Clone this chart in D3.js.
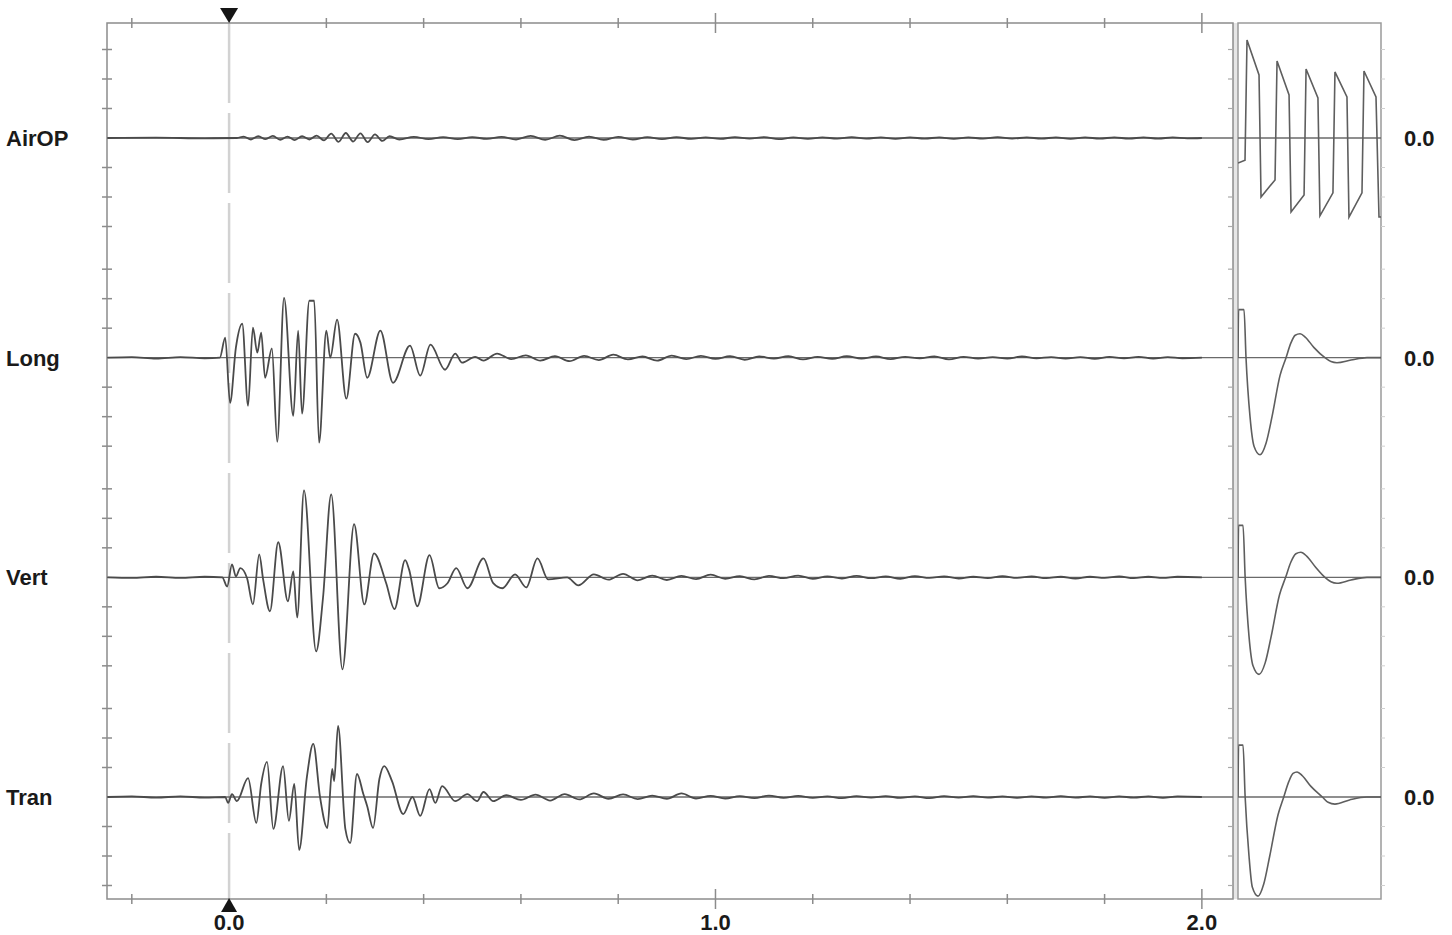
<!DOCTYPE html>
<html>
<head>
<meta charset="utf-8">
<title>Event waveform</title>
<style>
    body{ margin:0; background:white; }
    svg{ display:block; font-family:"Liberation Sans", Arial, sans-serif; }
</style>
<script src="https://d3js.org/d3.v7.min.js"></script>
</head>
<body>
<script>
let width = 1452
let height = 935

let channels = ['AirOP', 'Long', 'Vert', 'Tran']
let timeLabels = [0, 1, 2]
let zeroText = '0.0'

// [time (s), amplitude (tick units)]
let airWave = [[-0.25,0],[-0.15,0.01],[-0.05,-0.01],[0.016,0],[0.03,0.05],[0.045,-0.05],[0.06,0.06],[0.075,-0.04],
    [0.09,0.07],[0.105,-0.06],[0.12,0.05],[0.135,-0.07],[0.15,0.06],[0.165,-0.05],[0.18,0.08],[0.195,-0.08],
    [0.21,0.15],[0.225,-0.13],[0.24,0.17],[0.255,-0.12],[0.27,0.16],[0.285,-0.14],[0.30,0.12],[0.315,-0.1],
    [0.33,0.06],[0.35,-0.05],[0.38,0.04],[0.41,-0.04],[0.44,0.03],[0.47,-0.04],[0.50,0.03],[0.53,-0.03],
    [0.56,0.04],[0.59,-0.05],[0.62,0.07],[0.65,-0.06],[0.68,0.08],[0.71,-0.07],[0.74,0.05],[0.77,-0.06],
    [0.80,0.04],[0.83,-0.05],[0.86,0.03],[0.89,-0.04],[0.92,0.03],[0.95,-0.03],[0.98,0.02],[1.01,-0.03],
    [1.04,0.03],[1.07,-0.02],[1.10,0.03],[1.13,-0.04],[1.16,0.02],[1.19,-0.03],[1.22,0.02],[1.25,-0.02],
    [1.28,0.03],[1.31,-0.02],[1.34,0.02],[1.37,-0.03],[1.40,0.02],[1.43,-0.02],[1.46,0.02],[1.49,-0.03],
    [1.52,0.02],[1.55,-0.02],[1.58,0.03],[1.61,-0.02],[1.64,0.02],[1.67,-0.02],[1.70,0.02],[1.73,-0.03],
    [1.76,0.02],[1.79,-0.02],[1.82,0.02],[1.85,-0.02],[1.88,0.02],[1.91,-0.02],[1.94,0.02],[1.97,-0.01],[2.0,0]]

let longWave = [[-0.25,0],[-0.2,0.02],[-0.15,-0.03],[-0.1,0.02],[-0.05,-0.02],[-0.019,0],[-0.008,0.68],
    [0.002,-1.53],[0.014,0.34],[0.027,1.15],[0.039,-1.63],[0.049,1.02],[0.058,0.17],[0.066,0.85],[0.074,-0.68],
    [0.088,0.31],[0.099,-2.85],[0.113,2.03],[0.132,-1.97],[0.142,0.92],[0.150,-1.90],[0.165,1.93],[0.175,1.93],
    [0.185,-2.88],[0.200,0.92],[0.208,0.0],[0.222,1.29],[0.241,-1.39],[0.259,0.81],[0.270,0.51],[0.284,-0.68],
    [0.311,0.92],[0.337,-0.85],[0.372,0.41],[0.393,-0.61],[0.414,0.44],[0.444,-0.41],[0.465,0.14],[0.479,-0.17],
    [0.506,0.03],[0.523,-0.1],[0.551,0.14],[0.58,-0.05],[0.61,0.08],[0.64,-0.1],[0.67,0.05],[0.70,-0.12],
    [0.73,0.06],[0.76,-0.08],[0.79,0.1],[0.82,-0.06],[0.85,0.04],[0.88,-0.1],[0.91,0.07],[0.94,-0.05],
    [0.97,0.06],[1.0,-0.04],[1.03,0.05],[1.06,-0.07],[1.09,0.04],[1.12,-0.03],[1.15,0.05],[1.18,-0.06],
    [1.21,0.03],[1.24,-0.04],[1.27,0.05],[1.30,-0.03],[1.33,0.04],[1.36,-0.05],[1.39,0.03],[1.42,-0.02],
    [1.45,0.04],[1.48,-0.06],[1.51,0.03],[1.54,-0.03],[1.57,0.02],[1.60,-0.03],[1.63,0.04],[1.66,-0.02],
    [1.69,0.02],[1.72,-0.03],[1.75,0.02],[1.78,-0.04],[1.81,0.03],[1.84,-0.02],[1.87,0.03],[1.90,-0.03],
    [1.93,0.02],[1.96,-0.02],[2.0,0]]

let vertWave = [[-0.25,0],[-0.2,-0.02],[-0.15,0.02],[-0.1,-0.02],[-0.05,0.02],[-0.014,0],[-0.004,-0.31],
    [0.006,0.44],[0.014,0.03],[0.023,0.31],[0.037,-0.03],[0.049,-0.92],[0.062,0.78],[0.070,-0.07],[0.084,-1.15],
    [0.101,1.19],[0.121,-0.81],[0.132,0.20],[0.140,-1.36],[0.154,2.95],[0.179,-2.51],[0.193,-0.71],[0.210,2.81],
    [0.233,-3.12],[0.257,1.80],[0.278,-0.92],[0.298,0.81],[0.323,-0.2],[0.340,-1.08],[0.362,0.58],[0.370,0.27],
    [0.387,-0.98],[0.412,0.75],[0.432,-0.37],[0.449,-0.2],[0.467,0.31],[0.490,-0.37],[0.523,0.64],[0.543,-0.2],
    [0.562,-0.37],[0.588,0.10],[0.611,-0.34],[0.634,0.64],[0.656,-0.07],[0.695,0.0],[0.718,-0.27],[0.75,0.1],
    [0.78,-0.08],[0.81,0.12],[0.84,-0.1],[0.87,0.06],[0.90,-0.09],[0.93,0.05],[0.96,-0.06],[0.99,0.09],
    [1.02,-0.05],[1.05,0.04],[1.08,-0.07],[1.11,0.05],[1.14,-0.03],[1.17,0.06],[1.20,-0.05],[1.23,0.03],
    [1.26,-0.04],[1.29,0.05],[1.32,-0.03],[1.35,0.03],[1.38,-0.05],[1.41,0.04],[1.44,-0.02],[1.47,0.03],
    [1.50,-0.04],[1.53,0.02],[1.56,-0.03],[1.59,0.04],[1.62,-0.02],[1.65,0.03],[1.68,-0.03],[1.71,0.02],
    [1.74,-0.04],[1.77,0.02],[1.80,-0.02],[1.83,0.03],[1.86,-0.03],[1.89,0.02],[1.92,-0.02],[1.95,0.02],[2.0,0]]

let tranWave = [[-0.25,0],[-0.2,0.02],[-0.15,-0.02],[-0.1,0.02],[-0.05,-0.02],[-0.008,0],[-0.002,-0.2],
    [0.006,0.1],[0.016,-0.14],[0.039,0.64],[0.056,-0.88],[0.066,0.44],[0.078,1.19],[0.091,-1.08],[0.111,1.05],
    [0.123,-0.81],[0.134,0.44],[0.144,-1.80],[0.160,0.68],[0.173,1.80],[0.187,0.0],[0.202,-1.05],[0.212,0.95],
    [0.216,0.54],[0.224,2.41],[0.239,-1.08],[0.249,-1.56],[0.263,0.78],[0.276,0.1],[0.284,-0.31],[0.296,-1.05],
    [0.309,0.61],[0.319,1.05],[0.335,0.54],[0.358,-0.58],[0.377,0.0],[0.393,-0.64],[0.412,0.27],[0.424,-0.2],
    [0.438,0.37],[0.465,-0.14],[0.490,0.1],[0.510,-0.14],[0.523,0.17],[0.543,-0.14],[0.57,0.06],[0.60,-0.1],
    [0.63,0.08],[0.66,-0.12],[0.69,0.1],[0.72,-0.08],[0.75,0.12],[0.78,-0.06],[0.81,0.09],[0.84,-0.07],
    [0.87,0.05],[0.90,-0.06],[0.93,0.12],[0.96,-0.05],[0.99,0.04],[1.02,-0.05],[1.05,0.03],[1.08,-0.04],
    [1.11,0.05],[1.14,-0.03],[1.17,0.04],[1.20,-0.03],[1.23,0.02],[1.26,-0.04],[1.29,0.03],[1.32,-0.02],
    [1.35,0.03],[1.38,-0.03],[1.41,0.02],[1.44,-0.04],[1.47,0.03],[1.50,-0.02],[1.53,0.03],[1.56,-0.02],
    [1.59,0.02],[1.62,-0.03],[1.65,0.02],[1.68,-0.02],[1.71,0.03],[1.74,-0.02],[1.77,0.02],[1.80,-0.03],
    [1.83,0.02],[1.86,-0.02],[1.89,0.02],[1.92,-0.03],[1.95,0.02],[2.0,0]]

// calibration pulses, [relative time 0..1, amplitude]
let airCal = [[0,-0.85],[0.049,-0.75],[0.063,3.32],[0.147,2.14],[0.161,-2.0],[0.259,-1.42],[0.273,2.61],
    [0.357,1.46],[0.371,-2.51],[0.462,-1.93],[0.476,2.34],[0.559,1.36],[0.573,-2.64],[0.664,-1.86],[0.678,2.24],
    [0.762,1.39],[0.776,-2.68],[0.867,-1.86],[0.881,2.27],[0.965,1.39],[0.986,-2.68],[1.0,-2.68]]
let longCal = [[0,0],[0.004,1.63],[0.042,1.63],[0.056,0],[0.084,-2.0],[0.112,-3.0],[0.154,-3.29],[0.196,-2.9],
    [0.238,-2.0],[0.294,-0.6],[0.336,0],[0.37,0.5],[0.40,0.76],[0.434,0.81],[0.47,0.7],[0.53,0.35],[0.608,0],
    [0.65,-0.13],[0.692,-0.17],[0.79,-0.08],[0.902,0],[1,0]]
let vertCal = [[0,0],[0.004,1.76],[0.035,1.76],[0.05,0],[0.077,-2.0],[0.105,-3.0],[0.147,-3.29],[0.19,-2.9],
    [0.232,-2.0],[0.29,-0.6],[0.333,0],[0.37,0.52],[0.405,0.8],[0.44,0.85],[0.48,0.72],[0.54,0.36],[0.608,0],
    [0.65,-0.15],[0.692,-0.2],[0.79,-0.09],[0.902,0],[1,0]]
let tranCal = [[0,0],[0.004,1.76],[0.035,1.76],[0.05,0],[0.077,-2.0],[0.1,-3.05],[0.14,-3.36],[0.18,-2.95],
    [0.222,-2.0],[0.28,-0.6],[0.32,0],[0.355,0.52],[0.385,0.8],[0.413,0.85],[0.45,0.72],[0.51,0.36],[0.59,0],
    [0.63,-0.18],[0.678,-0.24],[0.78,-0.1],[0.9,0],[1,0]]

let waves = {AirOP: airWave, Long: longWave, Vert: vertWave, Tran: tranWave}
let cals = {AirOP: airCal, Long: longCal, Vert: vertCal, Tran: tranCal}

let plotLeft = 107, plotRight = 1233, plotTop = 23, plotBottom = 899
let calLeft = 1238, calRight = 1381

let xScale = d3.scaleLinear().domain([-0.251, 2.064]).range([plotLeft, plotRight])
let calScale = d3.scaleLinear().domain([0, 1]).range([calLeft, calRight])
let rowScale = d3.scalePoint().domain(channels).range([138, 797])
let ampScale = d3.scaleLinear().domain([-3, 3]).range([88.5, -88.5])

let axisColor = '#8c8c8c'
let traceColor = '#4a4a4a'

let svg = d3.select('body').append('svg')
    .attr('width', width)
    .attr('height', height)

svg.append('rect').attr('width', width).attr('height', height).attr('fill', 'white')

svg.append('defs').append('clipPath').attr('id', 'calClip')
    .append('rect')
    .attr('x', calLeft).attr('y', plotTop)
    .attr('width', calRight - calLeft).attr('height', plotBottom - plotTop)

// gap between main plot and calibration panel
svg.append('rect')
    .attr('x', plotRight).attr('y', plotTop)
    .attr('width', calLeft - plotRight).attr('height', plotBottom - plotTop)
    .attr('fill', '#e6e6e6')

// trigger line
let x0 = xScale(0)
svg.append('line')
    .attr('x1', x0).attr('x2', x0)
    .attr('y1', plotTop).attr('y2', plotBottom)
    .attr('stroke', '#d2d2d2')
    .attr('stroke-width', 2.5)
    .attr('stroke-dasharray', '80,10')

// frame
svg.append('rect')
    .attr('x', plotLeft).attr('y', plotTop)
    .attr('width', plotRight - plotLeft).attr('height', plotBottom - plotTop)
    .attr('fill', 'none').attr('stroke', axisColor).attr('stroke-width', 1.5)
svg.append('rect')
    .attr('x', calLeft).attr('y', plotTop)
    .attr('width', calRight - calLeft).attr('height', plotBottom - plotTop)
    .attr('fill', 'none').attr('stroke', '#9a9a9a').attr('stroke-width', 1.5)

// time ticks, top and bottom
let xTicks = xScale.ticks(10)
let isMajor = (t) => Math.abs(t - Math.round(t)) < 1e-6
;[plotTop, plotBottom].forEach(yy => {
    svg.append('g').selectAll('line')
        .data(xTicks.filter(t => t !== 0))
        .enter()
        .append('line')
        .attr('x1', d => xScale(d)).attr('x2', d => xScale(d))
        .attr('y1', d => yy - (isMajor(d) ? 10 : 5))
        .attr('y2', d => yy + (isMajor(d) ? 10 : 5))
        .attr('stroke', axisColor).attr('stroke-width', 1.5)
})

svg.append('g').selectAll('text')
    .data(timeLabels)
    .enter()
    .append('text')
    .attr('x', d => xScale(d))
    .attr('y', 930)
    .attr('text-anchor', 'middle')
    .attr('font-size', 22)
    .attr('font-weight', 'bold')
    .attr('fill', '#1a1a1a')
    .text(d => d.toFixed(1))

// trigger markers
svg.append('path')
    .attr('d', `M${x0 - 9},8 L${x0 + 9},8 L${x0},23 Z`)
    .attr('fill', '#151515')
svg.append('path')
    .attr('d', `M${x0 - 8},912 L${x0 + 8},912 L${x0},898 Z`)
    .attr('fill', '#151515')

// channel rows
let ampTicks = ampScale.ticks(6).filter(v => v !== 0)

channels.forEach(ch => {
    let y0 = rowScale(ch)
    let yOf = v => y0 + ampScale(v)

    let g = svg.append('g')

    // left axis ticks (crossing)
    g.selectAll('.ltick')
        .data(ampTicks)
        .enter()
        .append('line')
        .attr('x1', plotLeft - 5).attr('x2', plotLeft + 5)
        .attr('y1', d => yOf(d)).attr('y2', d => yOf(d))
        .attr('stroke', axisColor).attr('stroke-width', 1.5)

    // right border ticks (inward)
    g.selectAll('.rtick')
        .data(ampTicks)
        .enter()
        .append('line')
        .attr('x1', plotRight - 5).attr('x2', plotRight)
        .attr('y1', d => yOf(d)).attr('y2', d => yOf(d))
        .attr('stroke', '#aaaaaa').attr('stroke-width', 1.2)

    // cal panel outer ticks
    g.selectAll('.ctick')
        .data(ampTicks)
        .enter()
        .append('line')
        .attr('x1', calRight).attr('x2', calRight + 4)
        .attr('y1', d => yOf(d)).attr('y2', d => yOf(d))
        .attr('stroke', '#d0d0d0').attr('stroke-width', 1)

    // zero lines
    g.append('line')
        .attr('x1', plotLeft).attr('x2', plotRight)
        .attr('y1', y0).attr('y2', y0)
        .attr('stroke', '#6a6a6a').attr('stroke-width', 1.3)
    g.append('line')
        .attr('x1', calLeft).attr('x2', calRight)
        .attr('y1', y0).attr('y2', y0)
        .attr('stroke', '#6a6a6a').attr('stroke-width', 1.3)

    // event trace
    let line = d3.line()
        .x(d => xScale(d[0]))
        .y(d => yOf(d[1]))
        .curve(d3.curveMonotoneX)
    g.append('path')
        .datum(waves[ch])
        .attr('d', line)
        .attr('fill', 'none')
        .attr('stroke', traceColor)
        .attr('stroke-width', 1.8)
        .attr('stroke-linejoin', 'round')

    // calibration trace
    let calLine = d3.line()
        .x(d => calScale(d[0]))
        .y(d => yOf(d[1]))
        .curve(ch === 'AirOP' ? d3.curveLinear : d3.curveMonotoneX)
    g.append('path')
        .datum(cals[ch])
        .attr('d', calLine)
        .attr('clip-path', 'url(#calClip)')
        .attr('fill', 'none')
        .attr('stroke', '#5e5e5e')
        .attr('stroke-width', 1.6)

    // labels
    g.append('text')
        .attr('x', 6)
        .attr('y', y0)
        .attr('dy', '0.36em')
        .attr('font-size', 22)
        .attr('font-weight', 'bold')
        .attr('fill', '#1a1a1a')
        .text(ch)
    g.append('text')
        .attr('x', 1404)
        .attr('y', y0)
        .attr('dy', '0.36em')
        .attr('font-size', 22)
        .attr('font-weight', 'bold')
        .attr('fill', '#1a1a1a')
        .text(zeroText)
})
</script>
</body>
</html>
